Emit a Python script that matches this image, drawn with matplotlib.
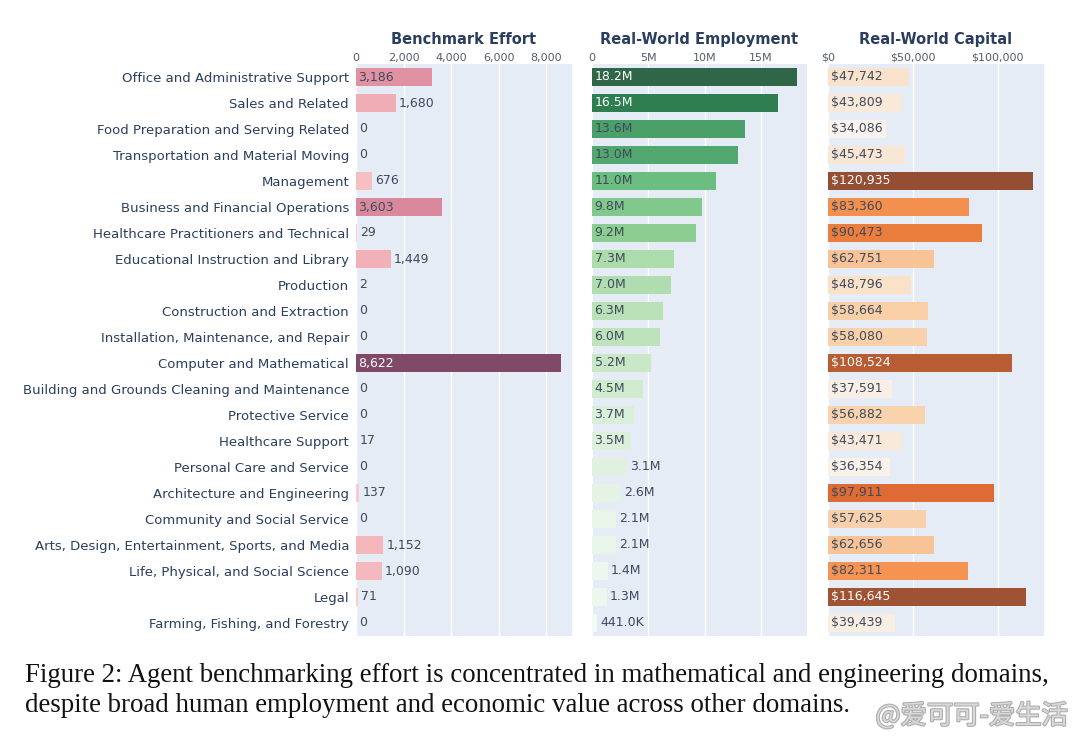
import matplotlib
matplotlib.use("Agg")
import matplotlib.pyplot as plt
import numpy as np
from matplotlib.colors import LinearSegmentedColormap, to_rgb
import matplotlib.patheffects as pe
import matplotlib.transforms as mtrans

categories = [
    "Office and Administrative Support", "Sales and Related",
    "Food Preparation and Serving Related", "Transportation and Material Moving",
    "Management", "Business and Financial Operations",
    "Healthcare Practitioners and Technical", "Educational Instruction and Library",
    "Production", "Construction and Extraction",
    "Installation, Maintenance, and Repair", "Computer and Mathematical",
    "Building and Grounds Cleaning and Maintenance", "Protective Service",
    "Healthcare Support", "Personal Care and Service",
    "Architecture and Engineering", "Community and Social Service",
    "Arts, Design, Entertainment, Sports, and Media",
    "Life, Physical, and Social Science", "Legal",
    "Farming, Fishing, and Forestry",
]
benchmark = [3186, 1680, 0, 0, 676, 3603, 29, 1449, 2, 0, 0, 8622, 0, 0, 17, 0, 137, 0, 1152, 1090, 71, 0]
employment = [18.2e6, 16.5e6, 13.6e6, 13.0e6, 11.0e6, 9.8e6, 9.2e6, 7.3e6, 7.0e6, 6.3e6, 6.0e6,
              5.2e6, 4.5e6, 3.7e6, 3.5e6, 3.1e6, 2.6e6, 2.1e6, 2.1e6, 1.4e6, 1.3e6, 441.0e3]
emp_labels = ["18.2M", "16.5M", "13.6M", "13.0M", "11.0M", "9.8M", "9.2M", "7.3M", "7.0M", "6.3M",
              "6.0M", "5.2M", "4.5M", "3.7M", "3.5M", "3.1M", "2.6M", "2.1M", "2.1M", "1.4M",
              "1.3M", "441.0K"]
capital = [47742, 43809, 34086, 45473, 120935, 83360, 90473, 62751, 48796, 58664, 58080,
           108524, 37591, 56882, 43471, 36354, 97911, 57625, 62656, 82311, 116645, 39439]

titles = ["Benchmark Effort", "Real-World Employment", "Real-World Capital"]
ticks1 = [0, 2000, 4000, 6000, 8000]
tick1_labels = ["0", "2,000", "4,000", "6,000", "8,000"]
ticks2 = [0, 5e6, 10e6, 15e6]
tick2_labels = ["0", "5M", "10M", "15M"]
ticks3 = [0, 50000, 100000]
tick3_labels = ["$0", "$50,000", "$100,000"]

burg = ['#ffc6c4', '#f4a3a8', '#e38191', '#cc607d', '#ad466c', '#8b3058', '#672044']
greens = ['#f7fcf5', '#e5f5e0', '#c7e9c0', '#a1d99b', '#74c476', '#41ab5d', '#238b45', '#006d2c', '#00441b']
oranges = ['#fff5eb', '#fee6ce', '#fdd0a2', '#fdae6b', '#fd8d3c', '#f16913', '#d94801', '#a63603', '#7f2704']

BG = '#e5ecf6'
TXT = '#2a3f5f'
OPA = 0.8

fig = plt.figure(figsize=(10.8, 7.42), dpi=100)
fig.patch.set_facecolor('white')

W, H = 1080, 742
top, bot = 64, 636
panels = [(356, 571.5), (592, 807), (828, 1044)]
xmaxs = [9050, 19.1e6, 127300]

datasets = [
    (benchmark, [f"{v:,}" for v in benchmark], burg, ticks1, tick1_labels),
    (employment, emp_labels, greens, ticks2, tick2_labels),
    (capital, [f"${v:,}" for v in capital], oranges, ticks3, tick3_labels),
]

axes = []
for i, ((l, r), xm, (vals, labs, cs, tks, tkl)) in enumerate(zip(panels, xmaxs, datasets)):
    ax = fig.add_axes([l / W, 1 - bot / H, (r - l) / W, (bot - top) / H])
    ax.set_facecolor(BG)
    vals = np.array(vals, dtype=float)
    cmap = LinearSegmentedColormap.from_list(f"c{i}", cs)
    vmin, vmax = vals.min(), vals.max()
    norm = (vals - vmin) / (vmax - vmin)
    y = np.arange(len(vals))
    cols = []
    for n in norm:
        c = np.array(cmap(n)[:3])
        cols.append(OPA * c + (1 - OPA) * np.array(to_rgb(BG)))
    ax.set_xlim(0, xm)
    ax.set_ylim(len(vals) - 0.5, -0.5)
    ax.set_xticks(tks)
    ax.set_xticklabels(tkl)
    ax.xaxis.tick_top()
    ax.tick_params(axis='x', length=0, pad=1, labelsize=8, labelcolor='#555d6a')
    ax.grid(axis='x', color='white', linewidth=1.0)
    ax.set_axisbelow(True)
    for s in ax.spines.values():
        s.set_visible(False)
    if i == 0:
        ax.set_yticks(y)
        ax.set_yticklabels(categories)
        ax.tick_params(axis='y', length=0, pad=5, labelsize=9.5, labelcolor=TXT)
    else:
        ax.set_yticks([])
    ax.barh(y, vals, height=0.7, color=cols, zorder=2)
    ax.set_title(titles[i], fontsize=10.5, fontweight='bold', color=TXT, pad=14.5)
    axes.append((ax, vals, labs, cols))

fig.canvas.draw()
renderer = fig.canvas.get_renderer()
for ax, vals, labs, cols in axes:
    x0 = ax.transData.transform((0, 0))[0]
    for j, (v, lab, c) in enumerate(zip(vals, labs, cols)):
        bw = ax.transData.transform((v, 0))[0] - x0
        t = ax.text(0, j, lab, fontsize=9, va='center', ha='left', zorder=3)
        tw = t.get_window_extent(renderer).width
        lum = 0.299 * c[0] + 0.587 * c[1] + 0.114 * c[2]
        if tw + 5.5 <= bw:
            t.set_x(0)
            t.set_transform(ax.transData + mtrans.ScaledTranslation(2.5 / 100, 0, fig.dpi_scale_trans))
            t.set_color('white' if lum < 0.47 else '#3f4a5c')
        else:
            t.set_x(v)
            t.set_transform(ax.transData + mtrans.ScaledTranslation(3 / 100, 0, fig.dpi_scale_trans))
            t.set_color('#3f4a5c')

cap_font = ['Liberation Serif', 'DejaVu Serif']
fig.text(25 / W, 1 - 682 / H,
         "Figure 2: Agent benchmarking effort is concentrated in mathematical and engineering domains,",
         fontsize=19.35, family=cap_font, color='#111111', va='baseline')
fig.text(25 / W, 1 - 712 / H,
         "despite broad human employment and economic value across other domains.",
         fontsize=19.35, family=cap_font, color='#111111', va='baseline')
fig.text(1068 / W, 1 - 716 / H, "@爱可可-爱生活", fontsize=19,
         family=['Noto Sans CJK SC', 'DejaVu Sans'], color='#e2e2e2', ha='right', va='center',
         path_effects=[pe.withStroke(linewidth=1.6, foreground='#a0a0a0')], alpha=0.85)

fig.savefig("out.png", dpi=100)
